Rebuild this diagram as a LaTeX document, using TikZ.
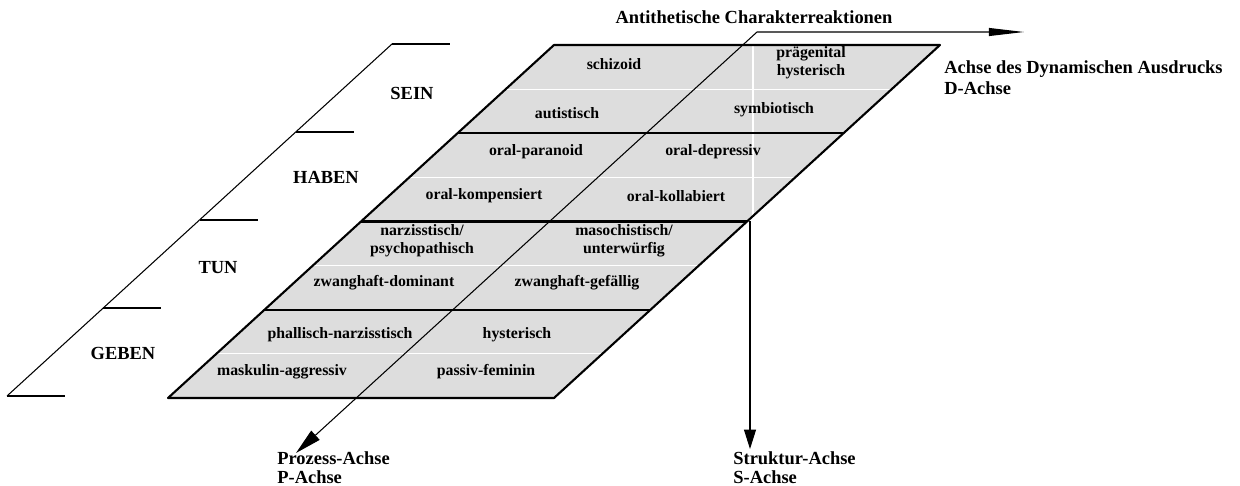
\documentclass[tikz,border=0pt]{standalone}
\usepackage{fontspec}
\setmainfont{Liberation Serif}
\usetikzlibrary{calc,arrows.meta}
\definecolor{cellgray}{RGB}{221,221,221}
\begin{document}
\begin{tikzpicture}[x=0.02cm,y=-0.02cm,
  cell/.style={font=\fontsize{9}{10.4}\selectfont\bfseries, align=center, inner sep=0pt},
  level/.style={font=\fontsize{10.5}{12}\selectfont\bfseries, inner sep=0pt},
  axislabel/.style={font=\fontsize{10.5}{10.6}\selectfont\bfseries, align=left, inner sep=0pt, anchor=north west},
  thinline/.style={line width=0.6pt},
  edge/.style={line width=1.2pt},
  rim/.style={line width=1.7pt},
  seam/.style={white, line width=0.7pt}]
\useasboundingbox (0,0) rectangle (1240,486);

% corners of the sheared character plane
\coordinate (TL) at (554,45);
\coordinate (TR) at (940,45);
\coordinate (BL) at (168,398);
\coordinate (BR) at (554,398);

\fill[cellgray] (TL) -- (TR) -- (BR) -- (BL) -- cycle;

% white seams halving each band, and the vertical seam of the S axis
\foreach \t in {0.125,0.375,0.625,0.875}
  \draw[seam] ($(TL)!\t!(BL)$) -- ($(TR)!\t!(BR)$);
\coordinate (vsA) at (753,45);
\coordinate (vsB) at (753,221);
\draw[seam] (vsA) -- (vsB);

% band separators and outline
\foreach \t in {0.25,0.5,0.75}
  \draw[edge] ($(TL)!\t!(BL)$) -- ($(TR)!\t!(BR)$);
\draw[edge, line join=round] (TL) -- (TR) -- (BR) -- (BL) -- cycle;
\draw[rim] (TL) -- (TR) (BL) -- (BR);

% axes
\coordinate (bend) at (757,32);
\coordinate (ptip) at (296,453);
\coordinate (dtip) at (1024,32);
\coordinate (stop) at (750,221);
\coordinate (stip) at (750,449);
\draw[thinline, arrows={Triangle[length=15pt,width=7pt]-Triangle[length=20pt,width=4.5pt]}]
  (ptip) -- (bend) -- (dtip);
\draw[thinline, -{Triangle[length=11pt,width=6.8pt]}] (stop) -- (stip);

% cell labels
\node[cell] (c11) at (614,64) {schizoid};
\node[cell] (c12) at (811,63) {prägenital\\hysterisch};
\node[cell] (c21) at (567,113) {autistisch};
\node[cell] (c22) at (774,110) {symbiotisch};
\node[cell] (c31) at (536,152) {oral-paranoid};
\node[cell] (c32) at (713,152) {oral-depressiv};
\node[cell] (c41) at (484,196) {oral-kompensiert};
\node[cell] (c42) at (676,196) {oral-kollabiert};
\node[cell] (c51) at (422,241) {narzisstisch/\\psychopathisch};
\node[cell] (c52) at (624,241) {masochistisch/\\unterwürfig};
\node[cell] (c61) at (384,283) {zwanghaft-dominant};
\node[cell] (c62) at (577,283) {zwanghaft-gefällig};
\node[cell] (c71) at (340,335) {phallisch-narzisstisch};
\node[cell] (c72) at (517,335) {hysterisch};
\node[cell] (c81) at (282,372) {maskulin-aggressiv};
\node[cell] (c82) at (486,372) {passiv-feminin};

% level staircase
\coordinate (stT) at (392,44);
\coordinate (stB) at (7,396);
\draw[thinline] (stT) -- (stB);
\foreach \t in {0,0.25,0.5,0.75,1}
  \draw[thinline] ($(stT)!\t!(stB)$) -- ++(58,0);
\node[level] (sein) at (412,93) {SEIN};
\node[level] (haben) at (326,177) {HABEN};
\node[level] (tun) at (218,268) {TUN};
\node[level] (geben) at (123,353) {GEBEN};

% axis captions
\node[level] (anti) at (754,17) {Antithetische Charakterreaktionen};
\node[axislabel, font=\fontsize{10.5}{12.2}\selectfont\bfseries] (dlab) at (944,60) {Achse des Dynamischen Ausdrucks\\D-Achse};
\node[axislabel] (plab) at (277,451.5) {Prozess-Achse\\P-Achse};
\node[axislabel] (slab) at (733,451.5) {Struktur-Achse\\S-Achse};
\end{tikzpicture}
\end{document}
